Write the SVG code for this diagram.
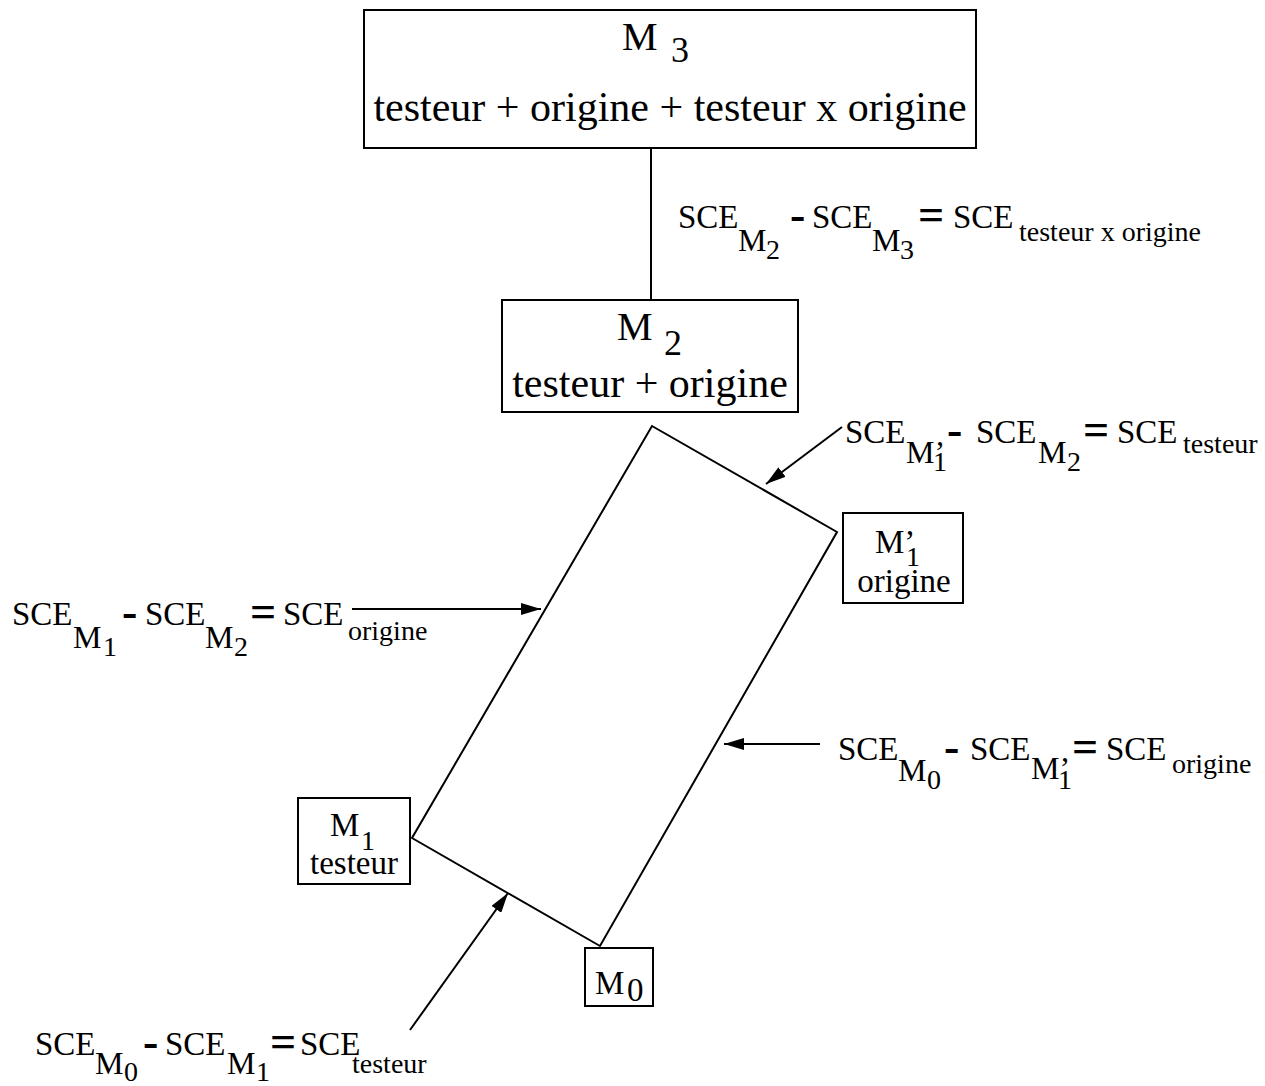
<svg xmlns="http://www.w3.org/2000/svg" width="1265" height="1086" viewBox="0 0 1265 1086">
<style>
text{font-family:"Liberation Serif","Times New Roman",serif;fill:#000}
.box{fill:#fff;stroke:#000;stroke-width:2}
.ln{fill:none;stroke:#000;stroke-width:2}
.big{font-size:42px}
.mid{font-size:33px}
.sub{font-size:32px}
.sm{font-size:28px}
.op{font-size:46px;font-weight:bold}
</style>
<defs>
<marker id="ah" viewBox="0 0 20 12" refX="20" refY="6" markerWidth="20" markerHeight="12" markerUnits="userSpaceOnUse" orient="auto">
<path d="M0,0 L20,6 L0,12 Z" fill="#000"/>
</marker>
</defs>
<rect width="1265" height="1086" fill="#fff"/>
<g id="connectors">
<line class="ln" x1="651" y1="148" x2="651" y2="300"/>
<polygon class="ln" points="652,426 837,532 600,946 412,838"/>
<line class="ln" x1="842" y1="427" x2="766" y2="484" marker-end="url(#ah)"/>
<line class="ln" x1="352" y1="609" x2="541" y2="609" marker-end="url(#ah)"/>
<line class="ln" x1="820" y1="744" x2="724" y2="744" marker-end="url(#ah)"/>
<line class="ln" x1="410" y1="1030" x2="508" y2="893" marker-end="url(#ah)"/>
</g>
<g id="M3">
<rect class="box" x="364" y="10" width="612" height="138"/>
<text x="622" y="50" font-size="40">M</text>
<text x="671" y="62" font-size="36">3</text>
<text class="big" x="670" y="121" text-anchor="middle">testeur + origine + testeur x origine</text>
</g>
<g id="M2">
<rect class="box" x="502" y="300" width="296" height="112"/>
<text x="617" y="340" font-size="40">M</text>
<text x="664" y="355" font-size="36">2</text>
<text class="big" x="650" y="397" text-anchor="middle">testeur + origine</text>
</g>
<g id="M1p">
<rect class="box" x="843" y="513" width="120" height="90"/>
<text class="mid" x="875" y="553">M’</text>
<text class="sm" x="906" y="566">1</text>
<text class="mid" x="904" y="592" text-anchor="middle">origine</text>
</g>
<g id="M1">
<rect class="box" x="298" y="798" width="112" height="86"/>
<text class="mid" x="330" y="836">M</text>
<text class="sm" x="361" y="850">1</text>
<text class="mid" x="354" y="874" text-anchor="middle">testeur</text>
</g>
<g id="M0">
<rect class="box" x="585" y="948" width="68" height="58"/>
<text class="mid" x="595" y="994">M</text>
<text class="mid" x="627" y="1001">0</text>
</g>
<g id="label-interaction">
<text class="mid" x="678" y="228">SCE</text>
<text class="sub" x="738" y="251">M</text>
<text class="sm" x="766" y="259">2</text>
<text class="op" x="790" y="230">-</text>
<text class="mid" x="812" y="228">SCE</text>
<text class="sub" x="872" y="251">M</text>
<text class="sm" x="900" y="259">3</text>
<text class="op" x="918" y="230">=</text>
<text class="mid" x="953" y="228">SCE</text>
<text class="sm" x="1019" y="241">testeur x origine</text>
</g>
<g id="label-testeur-top">
<text class="mid" x="845" y="443">SCE</text>
<text class="sub" x="906" y="463">M’</text>
<text class="sm" x="933" y="471">1</text>
<text class="op" x="947" y="445">-</text>
<text class="mid" x="976" y="443">SCE</text>
<text class="sub" x="1038" y="463">M</text>
<text class="sm" x="1067" y="471">2</text>
<text class="op" x="1083" y="445">=</text>
<text class="mid" x="1117" y="443">SCE</text>
<text class="sm" x="1183" y="453">testeur</text>
</g>
<g id="label-origine-left">
<text class="mid" x="12" y="625">SCE</text>
<text class="sub" x="73" y="648">M</text>
<text class="sm" x="103" y="656">1</text>
<text class="op" x="122" y="627">-</text>
<text class="mid" x="145" y="625">SCE</text>
<text class="sub" x="205" y="648">M</text>
<text class="sm" x="234" y="656">2</text>
<text class="op" x="250" y="627">=</text>
<text class="mid" x="283" y="625">SCE</text>
<text class="sm" x="348" y="640">origine</text>
</g>
<g id="label-origine-right">
<text class="mid" x="838" y="760">SCE</text>
<text class="sub" x="898" y="781">M</text>
<text class="sm" x="927" y="789">0</text>
<text class="op" x="944" y="762">-</text>
<text class="mid" x="970" y="760">SCE</text>
<text class="sub" x="1031" y="779">M’</text>
<text class="sm" x="1058" y="789">1</text>
<text class="op" x="1072" y="762">=</text>
<text class="mid" x="1106" y="760">SCE</text>
<text class="sm" x="1172" y="773">origine</text>
</g>
<g id="label-testeur-bottom">
<text class="mid" x="35" y="1055">SCE</text>
<text class="sub" x="95" y="1074">M</text>
<text class="sm" x="124" y="1081">0</text>
<text class="op" x="143" y="1057">-</text>
<text class="mid" x="165" y="1055">SCE</text>
<text class="sub" x="227" y="1074">M</text>
<text class="sm" x="256" y="1081">1</text>
<text class="op" x="270" y="1057">=</text>
<text class="mid" x="300" y="1055">SCE</text>
<text class="sm" x="352" y="1073">testeur</text>
</g>
</svg>
